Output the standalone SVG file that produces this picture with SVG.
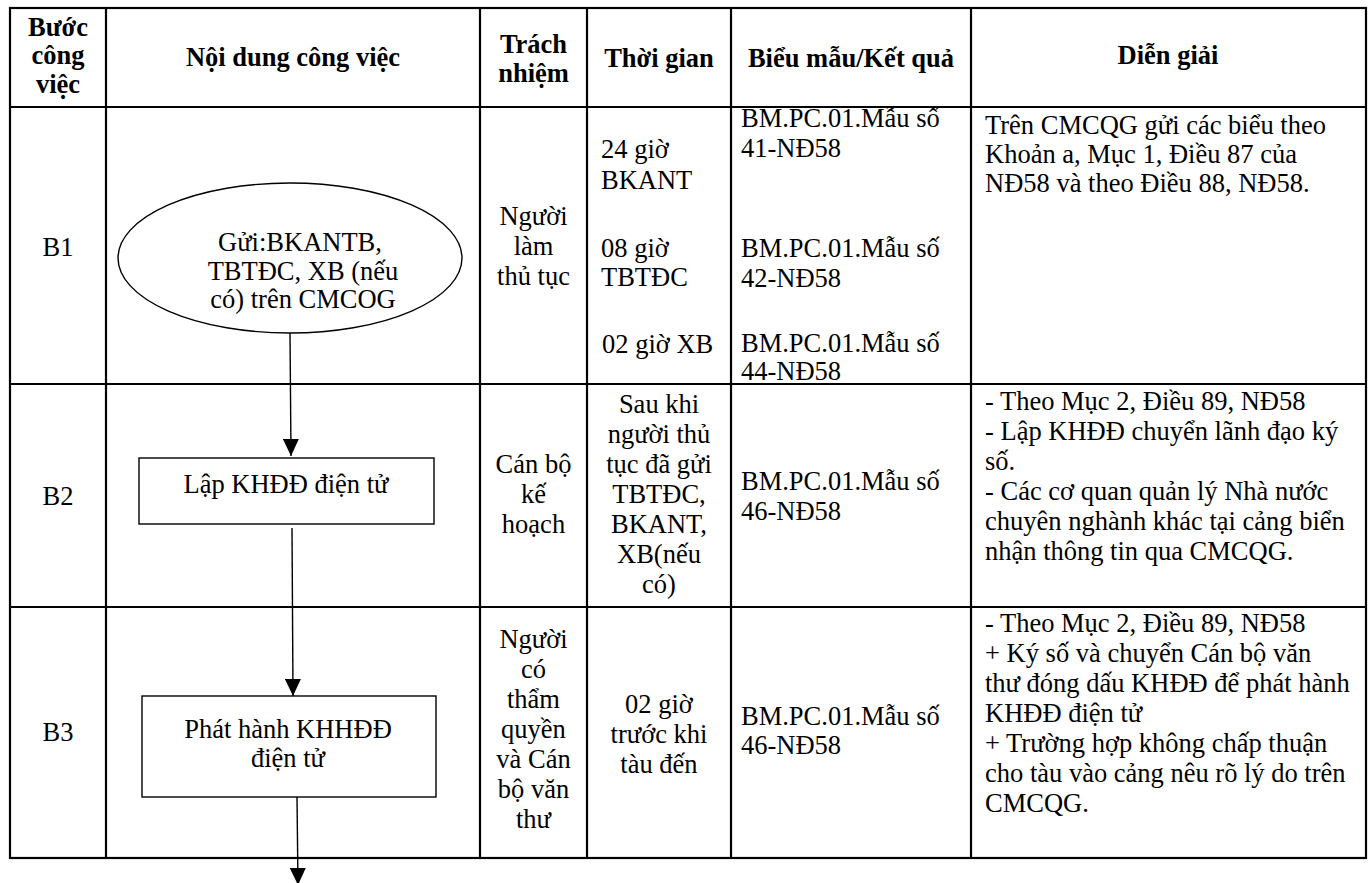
<svg xmlns="http://www.w3.org/2000/svg" width="1371" height="883" viewBox="0 0 1371 883">
<style>
text{font-family:"Liberation Serif","Times New Roman",serif;font-size:26.5px;fill:#000}
.h{font-weight:bold}
.c{text-anchor:middle}
.grid{stroke:#000;stroke-width:2.2;fill:none}
.shape{stroke:#000;stroke-width:1.4;fill:#fff}
.conn{stroke:#000;stroke-width:1.4;fill:none}
</style>
<defs>
<marker id="arr" markerUnits="userSpaceOnUse" viewBox="0 0 17 16" refX="17" refY="8" markerWidth="17" markerHeight="16" orient="auto">
<path d="M0,0 L17,8 L0,16 z" fill="#000"/>
</marker>
</defs>
<rect width="1371" height="883" fill="#fff"/>
<g id="table">
<rect class="grid" x="10" y="8" width="1356" height="850"/>
<line class="grid" x1="106" y1="8" x2="106" y2="858"/>
<line class="grid" x1="480" y1="8" x2="480" y2="858"/>
<line class="grid" x1="587" y1="8" x2="587" y2="858"/>
<line class="grid" x1="731" y1="8" x2="731" y2="858"/>
<line class="grid" x1="971" y1="8" x2="971" y2="858"/>
<line class="grid" x1="10" y1="107" x2="1366" y2="107"/>
<line class="grid" x1="10" y1="384" x2="1366" y2="384"/>
<line class="grid" x1="10" y1="607" x2="1366" y2="607"/>
</g>
<g id="header">
<text class="h c" x="58" y="36">Bước</text>
<text class="h c" x="58" y="64">công</text>
<text class="h c" x="58" y="93">việc</text>
<text class="h c" x="293" y="66">Nội dung công việc</text>
<text class="h c" x="533.5" y="53">Trách</text>
<text class="h c" x="533.5" y="82">nhiệm</text>
<text class="h c" x="659" y="67">Thời gian</text>
<text class="h c" x="851" y="67">Biểu mẫu/Kết quả</text>
<text class="h c" x="1168" y="64">Diễn giải</text>
</g>
<g id="row-b1">
<text class="c" x="58" y="256">B1</text>
<text class="c" x="533.5" y="225">Người</text>
<text class="c" x="533.5" y="255">làm</text>
<text class="c" x="533.5" y="285">thủ tục</text>
<text x="601" y="158">24 giờ</text>
<text x="601" y="189">BKANT</text>
<text x="601" y="257">08 giờ</text>
<text x="601" y="286">TBTĐC</text>
<text x="602" y="353">02 giờ XB</text>
<text x="741" y="127">BM.PC.01.Mẫu số</text>
<text x="741" y="157">41-NĐ58</text>
<text x="741" y="257">BM.PC.01.Mẫu số</text>
<text x="741" y="287">42-NĐ58</text>
<text x="741" y="352">BM.PC.01.Mẫu số</text>
<text x="741" y="380">44-NĐ58</text>
<text x="985" y="134">Trên CMCQG gửi các biểu theo</text>
<text x="985" y="163">Khoản a, Mục 1, Điều 87 của</text>
<text x="985" y="192">NĐ58 và theo Điều 88, NĐ58.</text>
</g>
<g id="node-b1">
<ellipse class="shape" cx="290" cy="258" rx="172" ry="75"/>
<text class="c" x="300" y="251">Gửi:BKANTB,</text>
<text class="c" x="303" y="280">TBTĐC, XB (nếu</text>
<text class="c" x="303" y="308">có) trên CMCOG</text>
</g>
<g id="row-b2">
<text class="c" x="58" y="505">B2</text>
<text class="c" x="533.5" y="473">Cán bộ</text>
<text class="c" x="533.5" y="503">kế</text>
<text class="c" x="533.5" y="533">hoạch</text>
<text class="c" x="659" y="413">Sau khi</text>
<text class="c" x="659" y="443">người thủ</text>
<text class="c" x="659" y="473">tục đã gửi</text>
<text class="c" x="659" y="503">TBTĐC,</text>
<text class="c" x="659" y="533">BKANT,</text>
<text class="c" x="659" y="563">XB(nếu</text>
<text class="c" x="659" y="593">có)</text>
<text x="741" y="490">BM.PC.01.Mẫu số</text>
<text x="741" y="520">46-NĐ58</text>
<text x="985" y="410">- Theo Mục 2, Điều 89, NĐ58</text>
<text x="985" y="440">- Lập KHĐĐ chuyển lãnh đạo ký</text>
<text x="985" y="470">số.</text>
<text x="985" y="500">- Các cơ quan quản lý Nhà nước</text>
<text x="985" y="530">chuyên nghành khác tại cảng biển</text>
<text x="985" y="560">nhận thông tin qua CMCQG.</text>
</g>
<g id="node-b2">
<rect class="shape" x="139" y="458" width="295" height="66"/>
<text class="c" x="286" y="493">Lập KHĐĐ điện tử</text>
</g>
<g id="row-b3">
<text class="c" x="58" y="741">B3</text>
<text class="c" x="533.5" y="648">Người</text>
<text class="c" x="533.5" y="678">có</text>
<text class="c" x="533.5" y="708">thẩm</text>
<text class="c" x="533.5" y="738">quyền</text>
<text class="c" x="533.5" y="768">và Cán</text>
<text class="c" x="533.5" y="798">bộ văn</text>
<text class="c" x="533.5" y="828">thư</text>
<text class="c" x="659" y="713">02 giờ</text>
<text class="c" x="659" y="743">trước khi</text>
<text class="c" x="659" y="773">tàu đến</text>
<text x="741" y="725">BM.PC.01.Mẫu số</text>
<text x="741" y="754">46-NĐ58</text>
<text x="985" y="632">- Theo Mục 2, Điều 89, NĐ58</text>
<text x="985" y="662">+ Ký số và chuyển Cán bộ văn</text>
<text x="985" y="692">thư đóng dấu KHĐĐ để phát hành</text>
<text x="985" y="722">KHĐĐ điện tử</text>
<text x="985" y="752">+ Trường hợp không chấp thuận</text>
<text x="985" y="782">cho tàu vào cảng nêu rõ lý do trên</text>
<text x="985" y="812">CMCQG.</text>
</g>
<g id="node-b3">
<rect class="shape" x="142" y="696" width="294" height="101"/>
<text class="c" x="288" y="738">Phát hành KHHĐĐ</text>
<text class="c" x="288" y="767">điện tử</text>
</g>
<g id="connectors">
<line class="conn" x1="290" y1="333" x2="291" y2="456" marker-end="url(#arr)"/>
<line class="conn" x1="292" y1="528" x2="293" y2="696" marker-end="url(#arr)"/>
<line class="conn" x1="297" y1="797" x2="298" y2="885" marker-end="url(#arr)"/>
</g>
</svg>
